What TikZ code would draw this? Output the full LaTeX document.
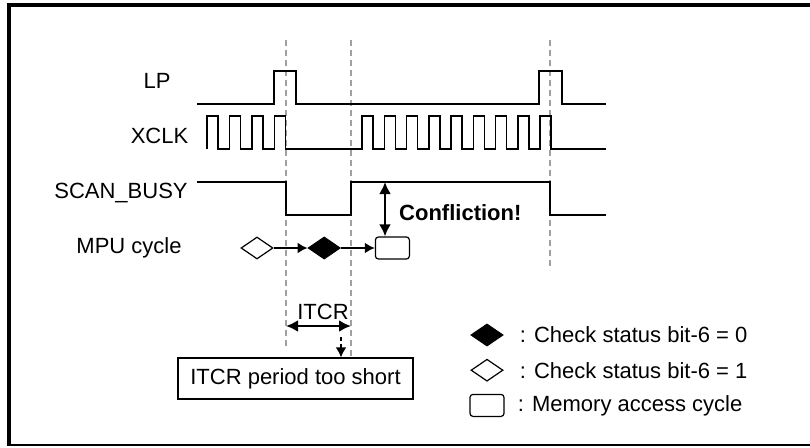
\documentclass[tikz,border=0pt]{standalone}
\usepackage{fontspec}
\setmainfont{Liberation Sans}
\usetikzlibrary{
  arrows.meta,
  shapes.geometric,
  positioning,
  calc
}
\definecolor{tdGuide}{HTML}{A0A0A0}
\tikzset{
  tdtext/.style={font=\fontsize{22}{26}\selectfont, inner sep=0pt},
  siglabel/.style={tdtext, anchor=base},
  wave/.style={line width=1.5pt, black},
  guide/.style={line width=2pt, tdGuide, dash pattern=on 6pt off 4pt},
  chkzero/.style={draw, diamond, fill=black, minimum width=32pt, minimum height=22pt, inner sep=0pt, line width=1.2pt},
  chkone/.style={chkzero, fill=white},
  memcyc/.style={draw, rounded corners=3pt, minimum width=34pt, minimum height=22pt, inner sep=0pt, line width=1.2pt, fill=white},
  cycarrow/.style={-{Latex[length=10pt,width=11pt]}, line width=2pt},
  conflict/.style={{Latex[length=12pt,width=12pt]}-{Latex[length=12pt,width=12pt]}, line width=2.6pt},
  itcrspan/.style={{Latex[length=12pt,width=12pt]}-{Latex[length=12pt,width=12pt]}, line width=2.6pt},
  toolate/.style={-{Latex[length=10pt,width=11pt]}, line width=2.5pt, dash pattern=on 4pt off 3pt},
  shortbox/.style={tdtext, draw, line width=1.2pt, minimum width=235pt, minimum height=41pt}
}
\begin{document}
\begin{tikzpicture}[x=1pt, y=-1pt]
  \useasboundingbox (0,0) rectangle (810,447);
  \fill[white] (0,0) rectangle (810,447);
  \draw[line width=4pt] (812,5) -- (9,5) -- (9,445);
  \draw[line width=2pt] (7,445) -- (812,445);

  \draw[guide] (286,40) -- (286,348);
  \draw[guide] (351,40) -- (351,358);
  \draw[guide] (550,40) -- (550,270);

  \node[siglabel] (lpname) at (157,88) {LP};
  \node[siglabel] (clkname) at (159.5,143) {XCLK};
  \node[siglabel] (busyname) at (121,198) {SCAN\_BUSY};
  \node[siglabel] (mpuname) at (129,253) {MPU cycle};

  \draw[wave] (197,104) -- (274,104) -- (274,71) -- (296,71) -- (296,104)
    -- (539,104) -- (539,71) -- (562,71) -- (562,104) -- (606,104);
  \draw[wave] (207,149)
    foreach \k in {0,...,3} { -- ({207+22.5*\k},149) -- ({207+22.5*\k},116) -- ({218+22.5*\k},116) -- ({218+22.5*\k},149) }
    -- (362,149)
    foreach \k in {0,...,8} { -- ({362+22.25*\k},149) -- ({362+22.25*\k},116) -- ({373+22.25*\k},116) -- ({373+22.25*\k},149) }
    -- (606,149);
  \draw[wave] (197,182) -- (286,182) -- (286,215) -- (351,215) -- (351,182)
    -- (550,182) -- (550,215) -- (606,215);

  \node[chkone] (cyc1) at (257,248) {};
  \node[chkzero, right=34pt of cyc1] (cyc2) {};
  \node[memcyc, right=34pt of cyc2] (mem) {};
  \draw[cycarrow] (cyc1) -- (cyc2);
  \draw[cycarrow] (cyc2) -- (mem);

  \coordinate (busyhi) at (385,182);
  \draw[conflict] (busyhi) -- (busyhi |- mem.north);
  \node[tdtext, font=\fontsize{22}{26}\selectfont\bfseries, anchor=base west] (conf) at (399,220) {Confliction!};

  \coordinate (itcrL) at (286,326);
  \coordinate (itcrR) at (351,326);
  \draw[itcrspan] (itcrL) -- (itcrR);
  \node[siglabel] (itcrname) at (323,319) {ITCR};
  \node[shortbox] (short) at (295.5,378.5) {ITCR period too short};
  \coordinate (itcrdn) at (341,337);
  \draw[toolate] (itcrdn) -- (itcrdn |- short.north);

  \node[chkzero] (lg0) at (487,335) {};
  \node[chkone, below=12pt of lg0] (lg1) {};
  \node[memcyc, below=12pt of lg1] (lg2) {};
  \node[tdtext, right=16pt of lg0] (lg0txt) {: Check status bit-6 = 0};
  \node[tdtext, right=16pt of lg1] (lg1txt) {: Check status bit-6 = 1};
  \node[tdtext, right=13pt of lg2] (lg2txt) {: Memory access cycle};
\end{tikzpicture}
\end{document}
